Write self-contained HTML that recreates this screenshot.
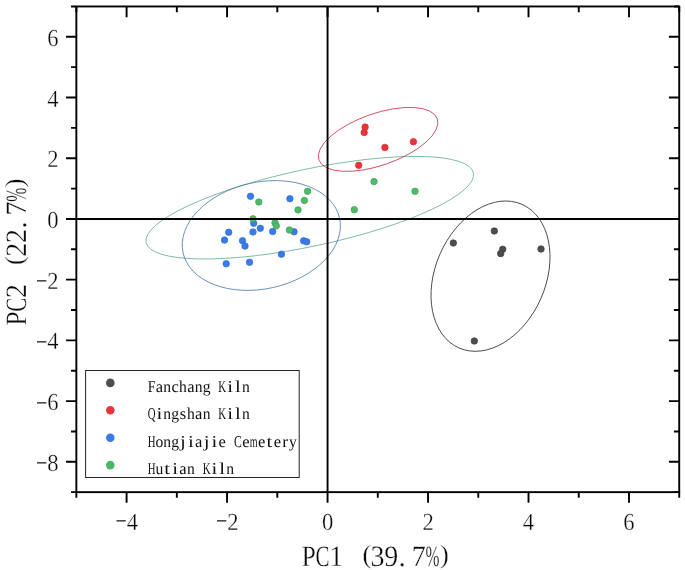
<!DOCTYPE html>
<html lang="en"><head><meta charset="utf-8"><title>PCA score plot</title>
<style>html,body{margin:0;padding:0;background:#fff}body{width:685px;height:570px;overflow:hidden}svg{display:block}text{font-family:"Liberation Serif", serif;fill:#0a0a0a;text-rendering:geometricPrecision}.e text{stroke:#fff;stroke-width:.3px}text.e{stroke:#fff;stroke-width:.3px}.k text{fill:#111}.e text .m{stroke:none}</style></head><body>
<svg width="685" height="570" viewBox="0 0 685 570" style="will-change:transform">
<rect width="685" height="570" fill="#ffffff"/>
<g fill="none" stroke-width="0.75">
<ellipse cx="309.75" cy="207.70" rx="167.32" ry="38.50" transform="rotate(-12.02 309.75 207.70)" stroke="#5fae8c"/>
<ellipse cx="261.30" cy="235.50" rx="80.16" ry="53.34" transform="rotate(-12.56 261.30 235.50)" stroke="#4a78a6"/>
<ellipse cx="378.10" cy="139.40" rx="62.67" ry="25.94" transform="rotate(-19.18 378.10 139.40)" stroke="#c4304a"/>
<ellipse cx="490.50" cy="276.15" rx="78.40" ry="55.15" transform="rotate(-66.37 490.50 276.15)" stroke="#2a2a2a"/>
</g>
<g fill="#4d4d4d" stroke="#404040" stroke-width="0.7">
<circle cx="494.3" cy="231.0" r="3.25"/>
<circle cx="453.3" cy="243.0" r="3.25"/>
<circle cx="502.7" cy="249.3" r="3.25"/>
<circle cx="500.7" cy="253.6" r="3.25"/>
<circle cx="541.0" cy="249.0" r="3.25"/>
<circle cx="474.3" cy="341.0" r="3.25"/>
</g>
<g fill="#e8353a" stroke="#d42d33" stroke-width="0.7">
<circle cx="365.1" cy="127.1" r="3.25"/>
<circle cx="364.2" cy="132.5" r="3.25"/>
<circle cx="384.9" cy="147.4" r="3.25"/>
<circle cx="413.4" cy="141.7" r="3.25"/>
<circle cx="358.7" cy="165.3" r="3.25"/>
</g>
<g fill="#3a7bea" stroke="#2f6bd2" stroke-width="0.7">
<circle cx="250.5" cy="196.3" r="3.25"/>
<circle cx="289.9" cy="198.7" r="3.25"/>
<circle cx="253.7" cy="223.3" r="3.25"/>
<circle cx="260.3" cy="228.3" r="3.25"/>
<circle cx="253.0" cy="232.0" r="3.25"/>
<circle cx="272.7" cy="231.5" r="3.25"/>
<circle cx="228.7" cy="232.3" r="3.25"/>
<circle cx="224.5" cy="240.1" r="3.25"/>
<circle cx="242.5" cy="240.7" r="3.25"/>
<circle cx="245.0" cy="246.1" r="3.25"/>
<circle cx="294.0" cy="231.8" r="3.25"/>
<circle cx="303.6" cy="240.8" r="3.25"/>
<circle cx="306.7" cy="241.8" r="3.25"/>
<circle cx="281.4" cy="254.2" r="3.25"/>
<circle cx="226.2" cy="263.8" r="3.25"/>
<circle cx="249.5" cy="262.3" r="3.25"/>
</g>
<g fill="#4fba6a" stroke="#3fa058" stroke-width="0.7">
<circle cx="307.6" cy="191.3" r="3.25"/>
<circle cx="304.4" cy="200.4" r="3.25"/>
<circle cx="298.0" cy="209.9" r="3.25"/>
<circle cx="258.8" cy="202.0" r="3.25"/>
<circle cx="253.0" cy="218.8" r="3.25"/>
<circle cx="275.0" cy="222.8" r="3.25"/>
<circle cx="276.3" cy="225.8" r="3.25"/>
<circle cx="289.4" cy="230.0" r="3.25"/>
<circle cx="374.0" cy="181.6" r="3.25"/>
<circle cx="415.0" cy="191.3" r="3.25"/>
<circle cx="354.3" cy="209.7" r="3.25"/>
</g>
<g stroke="#000" stroke-width="1.9" fill="none" stroke-linecap="butt">
<rect x="76.35" y="6.46" width="602.88" height="485.68"/>
<line x1="327.55" y1="6.46" x2="327.55" y2="492.14"/>
<line x1="76.35" y1="218.95" x2="679.23" y2="218.95"/>
<path d="M76.35 492.14v5.70M76.35 6.46v5.70M126.59 492.14v10.70M126.59 6.46v10.70M176.83 492.14v5.70M176.83 6.46v5.70M227.07 492.14v10.70M227.07 6.46v10.70M277.31 492.14v5.70M277.31 6.46v5.70M327.55 492.14v10.70M327.55 6.46v10.70M377.79 492.14v5.70M377.79 6.46v5.70M428.03 492.14v10.70M428.03 6.46v10.70M478.27 492.14v5.70M478.27 6.46v5.70M528.51 492.14v10.70M528.51 6.46v10.70M578.75 492.14v5.70M578.75 6.46v5.70M628.99 492.14v10.70M628.99 6.46v10.70M679.23 492.14v5.70M679.23 6.46v5.70M76.35 492.14h-5.30M679.23 492.14h-5.30M76.35 461.79h-10.30M679.23 461.79h-10.30M76.35 431.44h-5.30M679.23 431.44h-5.30M76.35 401.08h-10.30M679.23 401.08h-10.30M76.35 370.73h-5.30M679.23 370.73h-5.30M76.35 340.37h-10.30M679.23 340.37h-10.30M76.35 310.01h-5.30M679.23 310.01h-5.30M76.35 279.66h-10.30M679.23 279.66h-10.30M76.35 249.30h-5.30M679.23 249.30h-5.30M76.35 218.95h-10.30M679.23 218.95h-10.30M76.35 188.59h-5.30M679.23 188.59h-5.30M76.35 158.24h-10.30M679.23 158.24h-10.30M76.35 127.88h-5.30M679.23 127.88h-5.30M76.35 97.53h-10.30M679.23 97.53h-10.30M76.35 67.17h-5.30M679.23 67.17h-5.30M76.35 36.82h-10.30M679.23 36.82h-10.30M76.35 6.46h-5.30M679.23 6.46h-5.30"/>
</g>
<g class="e" font-size="24.5" text-anchor="middle">
<text aria-label="−4" y="528.7 530" x="121.14 132.34"><tspan class="m" textLength="11.30" lengthAdjust="spacingAndGlyphs">−</tspan><tspan textLength="11.30" lengthAdjust="spacingAndGlyphs">4</tspan></text>
<text aria-label="−2" y="528.7 530" x="221.62 232.82"><tspan class="m" textLength="11.30" lengthAdjust="spacingAndGlyphs">−</tspan><tspan textLength="11.30" lengthAdjust="spacingAndGlyphs">2</tspan></text>
<text aria-label="0" y="530" x="327.55"><tspan textLength="11.30" lengthAdjust="spacingAndGlyphs">0</tspan></text>
<text aria-label="2" y="530" x="428.03"><tspan textLength="11.30" lengthAdjust="spacingAndGlyphs">2</tspan></text>
<text aria-label="4" y="530" x="528.51"><tspan textLength="11.30" lengthAdjust="spacingAndGlyphs">4</tspan></text>
<text aria-label="6" y="530" x="628.99"><tspan textLength="11.30" lengthAdjust="spacingAndGlyphs">6</tspan></text>
<text aria-label="−8" y="471.49 470.79" x="41.65 52.85"><tspan class="m" textLength="11.30" lengthAdjust="spacingAndGlyphs">−</tspan><tspan textLength="11.30" lengthAdjust="spacingAndGlyphs">8</tspan></text>
<text aria-label="−6" y="410.78 410.08" x="41.65 52.85"><tspan class="m" textLength="11.30" lengthAdjust="spacingAndGlyphs">−</tspan><tspan textLength="11.30" lengthAdjust="spacingAndGlyphs">6</tspan></text>
<text aria-label="−4" y="350.07 349.37" x="41.65 52.85"><tspan class="m" textLength="11.30" lengthAdjust="spacingAndGlyphs">−</tspan><tspan textLength="11.30" lengthAdjust="spacingAndGlyphs">4</tspan></text>
<text aria-label="−2" y="289.36 288.66" x="41.65 52.85"><tspan class="m" textLength="11.30" lengthAdjust="spacingAndGlyphs">−</tspan><tspan textLength="11.30" lengthAdjust="spacingAndGlyphs">2</tspan></text>
<text aria-label="0" y="227.95" x="52.85"><tspan textLength="11.30" lengthAdjust="spacingAndGlyphs">0</tspan></text>
<text aria-label="2" y="167.24" x="52.85"><tspan textLength="11.30" lengthAdjust="spacingAndGlyphs">2</tspan></text>
<text aria-label="4" y="106.53" x="52.85"><tspan textLength="11.30" lengthAdjust="spacingAndGlyphs">4</tspan></text>
<text aria-label="6" y="45.82" x="52.85"><tspan textLength="11.30" lengthAdjust="spacingAndGlyphs">6</tspan></text>
</g>
<text aria-label="PC1 (39.7%)" class="e" font-size="29.5" text-anchor="middle" y="565.50 565.50 565.50 565.50 562.50 565.50 565.50 565.50 565.50 565.50 562.50" x="308.77 322.52 336.27 350.02 366.77 377.52 391.27 402.22 418.77 432.52 444.47"><tspan textLength="14.00" lengthAdjust="spacingAndGlyphs">P</tspan><tspan textLength="14.00" lengthAdjust="spacingAndGlyphs">C</tspan><tspan textLength="14.00" lengthAdjust="spacingAndGlyphs">1</tspan> <tspan font-size="26.3">(</tspan><tspan textLength="14.00" lengthAdjust="spacingAndGlyphs">3</tspan><tspan textLength="14.00" lengthAdjust="spacingAndGlyphs">9</tspan>.<tspan textLength="14.00" lengthAdjust="spacingAndGlyphs">7</tspan><tspan textLength="14.00" lengthAdjust="spacingAndGlyphs">%</tspan><tspan font-size="26.3">)</tspan></text>
<text aria-label="PC2 (22.7%)" class="e" font-size="29.5" text-anchor="middle" transform="translate(26.3 627.3) rotate(-90)" y="0.00 0.00 0.00 0.00 -3.00 0.00 0.00 0.00 0.00 0.00 -3.00" x="308.77 322.52 336.27 350.02 366.77 377.52 391.27 402.22 418.77 432.52 444.47"><tspan textLength="14.00" lengthAdjust="spacingAndGlyphs">P</tspan><tspan textLength="14.00" lengthAdjust="spacingAndGlyphs">C</tspan><tspan textLength="14.00" lengthAdjust="spacingAndGlyphs">2</tspan> <tspan font-size="26.3">(</tspan><tspan textLength="14.00" lengthAdjust="spacingAndGlyphs">2</tspan><tspan textLength="14.00" lengthAdjust="spacingAndGlyphs">2</tspan>.<tspan textLength="14.00" lengthAdjust="spacingAndGlyphs">7</tspan><tspan textLength="14.00" lengthAdjust="spacingAndGlyphs">%</tspan><tspan font-size="26.3">)</tspan></text>
<rect x="85.6" y="370.5" width="213.6" height="107" fill="#fff" stroke="#222" stroke-width="1"/>
<g class="k" font-size="16.5" text-anchor="middle">
<circle cx="110.3" cy="382.9" r="4.3" fill="#4d4d4d"/>
<text aria-label="Fanchang Kiln" y="391.7" x="151.53 159.39 167.25 175.11 182.97 190.83 198.69 206.55 214.41 222.27 230.13 237.99 245.85"><tspan textLength="7.80" lengthAdjust="spacingAndGlyphs">F</tspan>a<tspan textLength="7.80" lengthAdjust="spacingAndGlyphs">n</tspan>c<tspan textLength="7.80" lengthAdjust="spacingAndGlyphs">h</tspan>a<tspan textLength="7.80" lengthAdjust="spacingAndGlyphs">n</tspan><tspan textLength="7.80" lengthAdjust="spacingAndGlyphs">g</tspan> <tspan textLength="7.80" lengthAdjust="spacingAndGlyphs">K</tspan><tspan textLength="5.80" lengthAdjust="spacingAndGlyphs">i</tspan><tspan textLength="5.80" lengthAdjust="spacingAndGlyphs">l</tspan><tspan textLength="7.80" lengthAdjust="spacingAndGlyphs">n</tspan></text>
<circle cx="110.3" cy="410.3" r="4.3" fill="#e8353a"/>
<text aria-label="Qingshan Kiln" y="419.1" x="151.53 159.39 167.25 175.11 182.97 190.83 198.69 206.55 214.41 222.27 230.13 237.99 245.85"><tspan textLength="7.80" lengthAdjust="spacingAndGlyphs">Q</tspan><tspan textLength="5.80" lengthAdjust="spacingAndGlyphs">i</tspan><tspan textLength="7.80" lengthAdjust="spacingAndGlyphs">n</tspan><tspan textLength="7.80" lengthAdjust="spacingAndGlyphs">g</tspan>s<tspan textLength="7.80" lengthAdjust="spacingAndGlyphs">h</tspan>a<tspan textLength="7.80" lengthAdjust="spacingAndGlyphs">n</tspan> <tspan textLength="7.80" lengthAdjust="spacingAndGlyphs">K</tspan><tspan textLength="5.80" lengthAdjust="spacingAndGlyphs">i</tspan><tspan textLength="5.80" lengthAdjust="spacingAndGlyphs">l</tspan><tspan textLength="7.80" lengthAdjust="spacingAndGlyphs">n</tspan></text>
<circle cx="110.3" cy="437.7" r="4.3" fill="#3a7bea"/>
<text aria-label="Hongjiajie Cemetery" y="446.5" x="151.53 159.39 167.25 175.11 182.97 190.83 198.69 206.55 214.41 222.27 230.13 237.99 245.85 253.71 261.57 269.43 277.29 285.15 293.01"><tspan textLength="7.80" lengthAdjust="spacingAndGlyphs">H</tspan><tspan textLength="7.80" lengthAdjust="spacingAndGlyphs">o</tspan><tspan textLength="7.80" lengthAdjust="spacingAndGlyphs">n</tspan><tspan textLength="7.80" lengthAdjust="spacingAndGlyphs">g</tspan><tspan textLength="5.80" lengthAdjust="spacingAndGlyphs">j</tspan><tspan textLength="5.80" lengthAdjust="spacingAndGlyphs">i</tspan>a<tspan textLength="5.80" lengthAdjust="spacingAndGlyphs">j</tspan><tspan textLength="5.80" lengthAdjust="spacingAndGlyphs">i</tspan>e <tspan textLength="7.80" lengthAdjust="spacingAndGlyphs">C</tspan>e<tspan textLength="7.80" lengthAdjust="spacingAndGlyphs">m</tspan>e<tspan textLength="5.80" lengthAdjust="spacingAndGlyphs">t</tspan>e<tspan textLength="5.80" lengthAdjust="spacingAndGlyphs">r</tspan><tspan textLength="7.80" lengthAdjust="spacingAndGlyphs">y</tspan></text>
<circle cx="110.3" cy="465.1" r="4.3" fill="#4db568"/>
<text aria-label="Hutian Kiln" y="473.9" x="151.53 159.39 167.25 175.11 182.97 190.83 198.69 206.55 214.41 222.27 230.13"><tspan textLength="7.80" lengthAdjust="spacingAndGlyphs">H</tspan><tspan textLength="7.80" lengthAdjust="spacingAndGlyphs">u</tspan><tspan textLength="5.80" lengthAdjust="spacingAndGlyphs">t</tspan><tspan textLength="5.80" lengthAdjust="spacingAndGlyphs">i</tspan>a<tspan textLength="7.80" lengthAdjust="spacingAndGlyphs">n</tspan> <tspan textLength="7.80" lengthAdjust="spacingAndGlyphs">K</tspan><tspan textLength="5.80" lengthAdjust="spacingAndGlyphs">i</tspan><tspan textLength="5.80" lengthAdjust="spacingAndGlyphs">l</tspan><tspan textLength="7.80" lengthAdjust="spacingAndGlyphs">n</tspan></text>
</g>
</svg></body></html>
